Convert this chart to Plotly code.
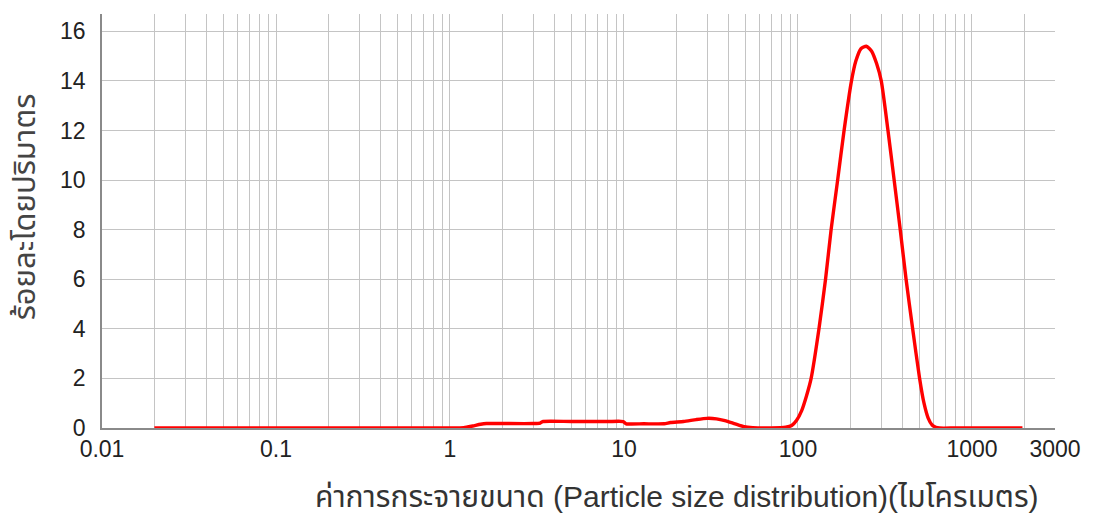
import plotly.graph_objects as go

# Particle size (micrometres) and volume percent
size_um = [0.02, 0.05, 0.1, 0.3, 0.6, 1.0, 1.2, 1.35, 1.5, 1.62, 2.0, 3.0, 3.3,
           3.4, 5.0, 8.0, 9.9, 10.3, 13.0, 17.0, 18.5, 22.0, 26.0, 30.0, 34.0,
           38.0, 43.0, 49.0, 55.0, 70.0, 85.0, 92.0, 98.0, 105.0, 112.0, 119.0,
           132.0, 144.0, 155.0, 169.0, 184.0, 203.0, 215.0, 230.0, 247.0, 265.0,
           283.0, 301.0, 329.0, 357.0, 387.0, 418.0, 456.0, 500.0, 530.0, 560.0,
           590.0, 620.0, 650.0, 800.0, 1200.0, 1950.0]
volume_pct = [0.0, 0.0, 0.0, 0.0, 0.0, 0.0, 0.01, 0.08, 0.15, 0.18, 0.18, 0.18, 0.2,
              0.26, 0.26, 0.26, 0.26, 0.17, 0.17, 0.17, 0.22, 0.26, 0.34, 0.39, 0.37,
              0.3, 0.18, 0.05, 0.01, 0.0, 0.03, 0.1, 0.3, 0.7, 1.3, 2.0,
              4.0, 6.0, 8.0, 10.0, 12.0, 14.0, 14.8, 15.3, 15.4, 15.2,
              14.7, 14.0, 12.0, 10.0, 8.0, 6.0, 4.0, 2.0, 1.0, 0.4,
              0.12, 0.03, 0.0, 0.0, 0.0, 0.0]

# Log-axis grid positions and labels
x_labels = {0.01: "0.01", 0.1: "0.1", 1: "1", 10: "10", 100: "100", 1000: "1000", 3000: "3000"}
x_grid = []
for decade in [0.01, 0.1, 1, 10, 100, 1000]:
    for m in range(1, 10):
        v = round(m * decade, 6)
        if v <= 2000:
            x_grid.append(v)
x_grid.append(3000)
x_text = [x_labels.get(v, "") for v in x_grid]

y_ticks = [0, 2, 4, 6, 8, 10, 12, 14, 16]

font_family = "Liberation Sans, Arial, Noto Sans Thai, sans-serif"

fig = go.Figure()
fig.add_trace(go.Scatter(
    x=size_um, y=volume_pct, mode="lines",
    line=dict(color="#ff0000", width=3.4, shape="spline", smoothing=0.6),
    showlegend=False,
))

fig.update_layout(
    width=1093, height=519,
    margin=dict(l=102, r=31, t=14, b=91),
    paper_bgcolor="white", plot_bgcolor="white",
    font=dict(family=font_family, size=23, color="#222222"),
    xaxis=dict(
        type="log", range=[-2, 3.4771],
        tickmode="array", tickvals=x_grid, ticktext=x_text,
        showgrid=True, gridcolor="#c4c4c4", gridwidth=1,
        showline=True, linecolor="#8a8a8a", linewidth=1.5,
        ticks="", zeroline=False,
        tickfont=dict(size=23),
    ),
    yaxis=dict(
        range=[0, 16.7],
        tickmode="array", tickvals=y_ticks,
        showgrid=True, gridcolor="#c4c4c4", gridwidth=1,
        showline=True, linecolor="#8a8a8a", linewidth=1.5,
        ticks="", zeroline=False, ticklabelstandoff=10,
        tickfont=dict(size=23),
    ),
    annotations=[
        dict(text="ร้อยละโดยปริมาตร", xref="paper", yref="paper",
             x=-0.081, y=0.535, textangle=-90, showarrow=False,
             xanchor="center", yanchor="middle",
             font=dict(size=31, family=font_family, color="#444444")),
        dict(text="ค่าการกระจายขนาด (Particle size distribution)(ไมโครเมตร)",
             xref="paper", yref="paper", x=0.603, y=-0.165,
             showarrow=False, xanchor="center", yanchor="middle",
             font=dict(size=30, family=font_family, color="#333333")),
    ],
)

fig.write_html("out.html")
